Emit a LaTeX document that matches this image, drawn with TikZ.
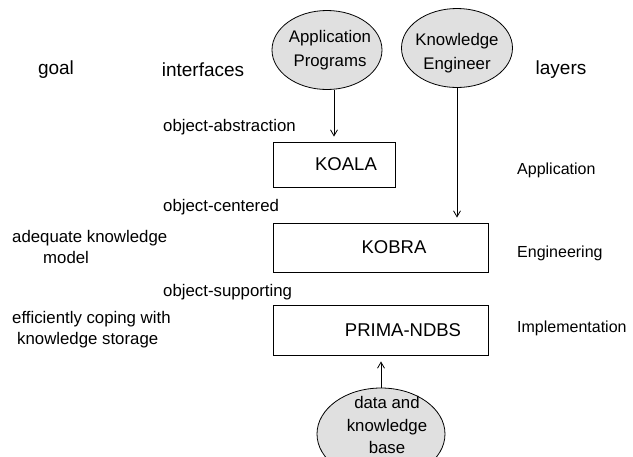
\documentclass[tikz,border=0pt]{standalone}
\usepackage{fontspec}
\setmainfont{Liberation Sans}
\usetikzlibrary{arrows.meta,shapes.geometric}

\begin{document}
\begin{tikzpicture}[
    x=1pt, y=-1pt,
    layerbox/.style={
      draw=black,
      line width=0.9pt,
      inner sep=0pt,
      font=\fontsize{18.5}{22}\selectfont,
    },
    actor/.style={
      ellipse,
      draw=black,
      line width=0.8pt,
      fill=black!12,
      inner sep=0pt,
    },
    actortext/.style={align=center, inner sep=0pt, font=\fontsize{16.8}{24}\selectfont},
    heading/.style={font=\fontsize{19}{22}\selectfont},
    iface/.style={anchor=west, inner sep=0pt, font=\fontsize{16.8}{20}\selectfont},
    goaltext/.style={anchor=west, align=left, inner sep=0pt, font=\fontsize{16.8}{21}\selectfont},
    layername/.style={anchor=west, inner sep=0pt, font=\fontsize{16}{20}\selectfont},
    arrow/.style={
      -{Straight Barb[length=6pt,width=7pt]},
      line width=0.8pt,
      shorten >=5pt,
    },
  ]
    \useasboundingbox (0,0) rectangle (633,456);

    % column headings
    \node[heading] (goal) at (56,70) {goal};
    \node[heading] (interfaces) at (203,70) {interfaces};
    \node[heading] (layers) at (561,70) {layers};

    % users and data
    \node[actor, minimum width=110pt, minimum height=79pt] (apps) at (327,50) {};
    \node[actortext] (appstext) at (330,50) {Application\\Programs};
    \node[actor, minimum width=111pt, minimum height=79pt] (engineer) at (457,48) {};
    \node[actortext] (engineertext) at (457,53) {Knowledge\\Engineer};
    \node[actor, minimum width=128pt, minimum height=92pt] (base) at (381,434) {};
    \node[actortext, font=\fontsize{16.8}{22.5}\selectfont] (basetext) at (387,425) {data and\\knowledge\\base};

    % layer boxes
    \node[layerbox, minimum width=122pt, minimum height=45pt] (koala) at (334,164.5) {\hspace*{24pt}KOALA};
    \node[layerbox, minimum width=215pt, minimum height=49pt] (kobra) at (380.5,247.5) {\hspace*{27pt}KOBRA};
    \node[layerbox, minimum width=215pt, minimum height=50pt] (prima) at (380.5,330) {\hspace*{45pt}PRIMA-NDBS};

    % interfaces
    \node[iface] (abstraction) at (163,127) {object-abstraction};
    \node[iface] (centered) at (163,207) {object-centered};
    \node[iface] (supporting) at (163,292) {object-supporting};

    % goals
    \node[goaltext] (adequate) at (12,247) {adequate knowledge\\\hspace*{31pt}model};
    \node[goaltext] (coping) at (12,329.5) {efficiently coping with\\\hspace*{5pt}knowledge storage};

    % layers
    \node[layername] (application) at (517,170) {Application};
    \node[layername] (engineering) at (517,253) {Engineering};
    \node[layername] (implementation) at (517,328) {Implementation};

    \draw[arrow] (koala.north |- apps.south) -- (koala.north);
    \draw[arrow] (engineer.south) -- (engineer.south |- kobra.north);
    \draw[arrow, shorten >=6pt] (base.north) -- (base.north |- prima.south);
\end{tikzpicture}
\end{document}
